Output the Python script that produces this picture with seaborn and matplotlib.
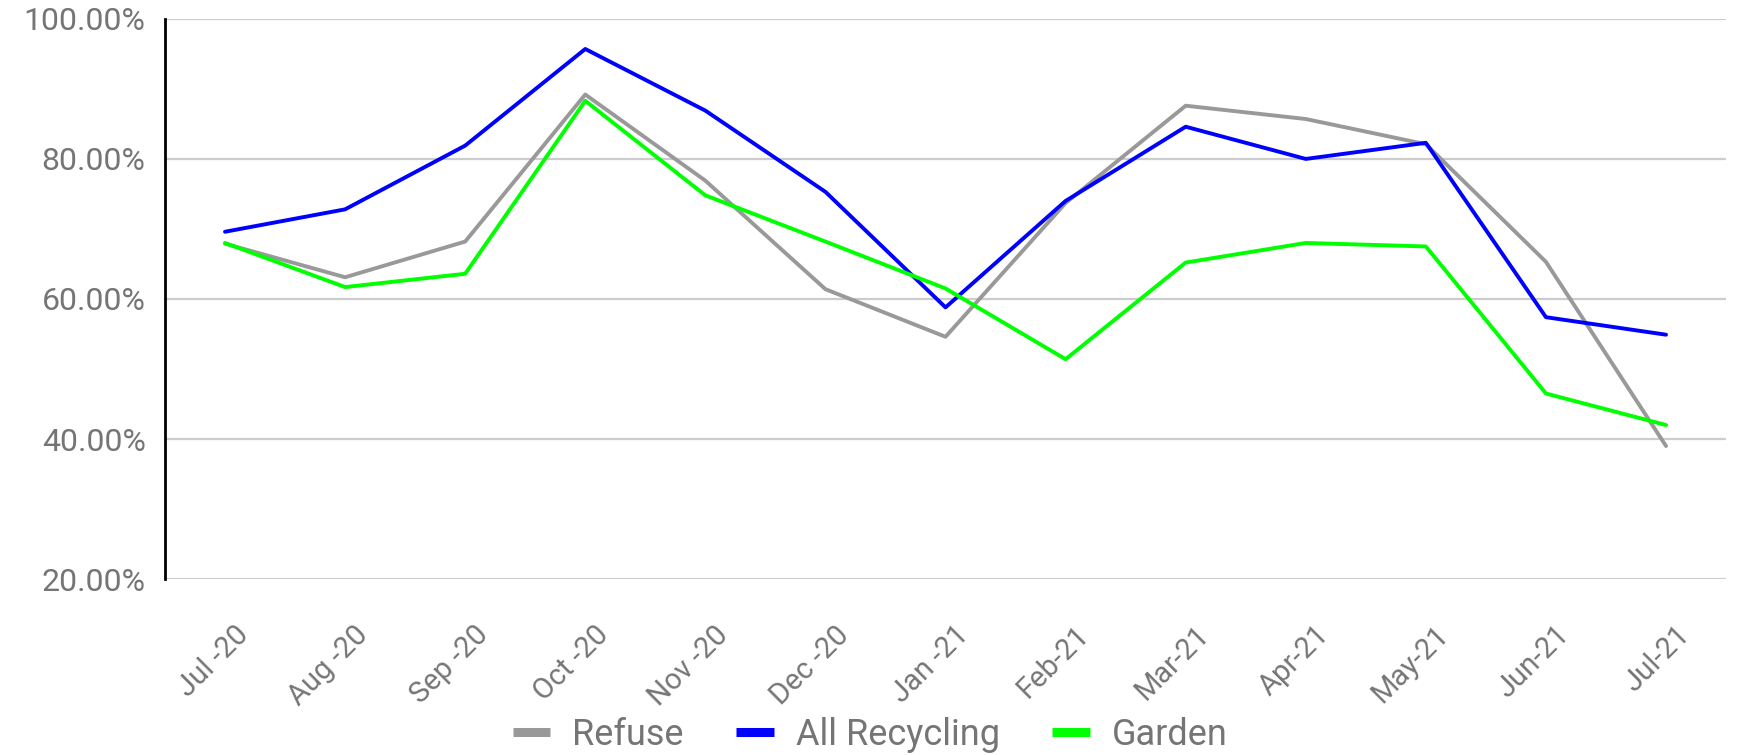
import matplotlib
matplotlib.use("Agg")
import matplotlib.pyplot as plt
import matplotlib.transforms as mtransforms
import seaborn as sns
import pandas as pd
from matplotlib.lines import Line2D

months = ["Jul -20", "Aug -20", "Sep -20", "Oct -20", "Nov -20", "Dec -20", "Jan -21",
          "Feb-21", "Mar-21", "Apr-21", "May-21", "Jun-21", "Jul-21"]
refuse = [67.9, 63.1, 68.2, 89.2, 76.9, 61.4, 54.6, 73.7, 87.6, 85.7, 82.1, 65.3, 39.0]
recycling = [69.6, 72.8, 81.9, 95.7, 86.9, 75.3, 58.8, 74.0, 84.6, 80.0, 82.3, 57.4, 54.9]
garden = [68.0, 61.7, 63.6, 88.3, 74.8, 68.2, 61.5, 51.4, 65.2, 68.0, 67.5, 46.5, 42.0]
series_names = ["Refuse", "All Recycling", "Garden"]
colors = ["#999999", "#0000ff", "#00ff00"]
yticks = [20, 40, 60, 80, 100]

sns.set_theme(style="white")
plt.rcParams['font.family'] = ['Roboto', 'DejaVu Sans']

rows = []
for name, vals in zip(series_names, [refuse, recycling, garden]):
    for i, v in enumerate(vals):
        rows.append({"idx": i, "month": months[i], "value": v, "series": name})
df = pd.DataFrame(rows)

fig = plt.figure(figsize=(17.4, 7.55), dpi=100)
ax = fig.add_axes([0.0948, 0.233, 0.992 - 0.0948, 0.975 - 0.233])

sns.lineplot(data=df, x="idx", y="value", hue="series", hue_order=series_names,
             palette=dict(zip(series_names, colors)), linewidth=2.8, ax=ax,
             legend=False, sort=False)

ax.set_xlim(-0.5, len(months) - 0.5)
ax.set_ylim(20, 100)
ax.set_yticks(yticks)
ax.set_yticklabels([f"{v:.2f}%" for v in yticks])
ax.set_xticks(range(len(months)))
ax.set_xticklabels(months, rotation=45, ha="right", rotation_mode="anchor")
ax.tick_params(axis="y", colors="#757575", labelsize=23, length=0, pad=14)
ax.tick_params(axis="x", colors="#757575", labelsize=21, length=0, pad=30)
offset = mtransforms.ScaledTranslation(0.09, 0, fig.dpi_scale_trans)
for lbl in ax.get_xticklabels():
    lbl.set_transform(lbl.get_transform() + offset)
ax.set_xlabel("")
ax.set_ylabel("")
ax.yaxis.grid(True, color="#cccccc", linewidth=1.6)
ax.set_axisbelow(True)
for s in ["top", "right", "bottom"]:
    ax.spines[s].set_visible(False)
ax.spines["left"].set_color("black")
ax.spines["left"].set_linewidth(2)
ax.spines["left"].set_zorder(5)

handles = [Line2D([0], [0], color=c, linewidth=6.5, solid_capstyle="butt") for c in colors]
fig.legend(handles, series_names, loc="center", bbox_to_anchor=(0.5, 0.027),
           ncol=3, frameon=False, fontsize=26, handlelength=1.05, columnspacing=1.45,
           handletextpad=0.6, labelcolor="#757575")

fig.savefig("out.png", dpi=100)
